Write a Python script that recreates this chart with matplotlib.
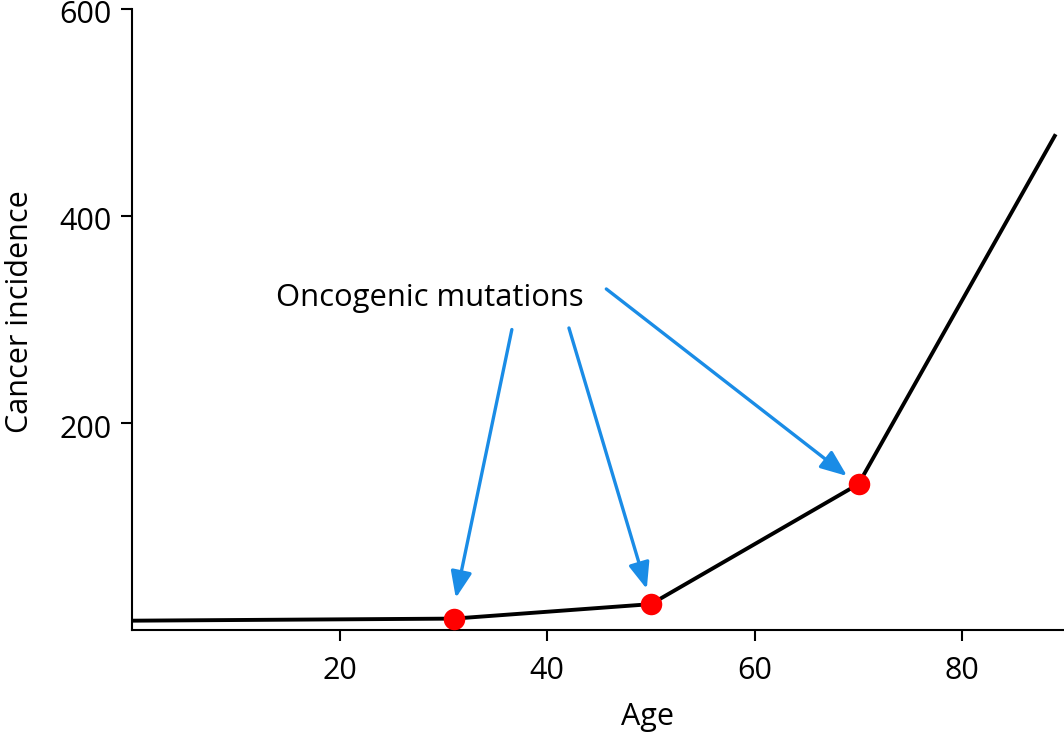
import matplotlib
matplotlib.use("Agg")
import matplotlib.pyplot as plt
from matplotlib.transforms import ScaledTranslation

# Data
ages = [0, 31, 50, 70, 89]
incidence = [9, 11, 25, 141, 479]
mutation_ages = [31, 50, 70]
mutation_incidence = [11, 25, 141]

x_ticks = [20, 40, 60, 80]
y_ticks = [200, 400, 600]

annotation_text = "Oncogenic mutations"
x_label = "Age"
y_label = "Cancer incidence"

plt.rcParams['font.family'] = ['Open Sans', 'DejaVu Sans']

W, H = 1064, 732
fig = plt.figure(figsize=(W / 100, H / 100), dpi=100)
ax = fig.add_axes([132 / W, (H - 630) / H, (1064 - 132) / W, (630 - 9) / H])

ax.plot(ages, incidence, color='black', lw=2.8, solid_capstyle='butt', zorder=2)
ax.plot(mutation_ages, mutation_incidence, 'o', color='#ff0000', ms=15.5,
        markeredgewidth=0, zorder=3)

ax.set_xlim(0, 89.8)
ax.set_ylim(0, 600)
ax.set_xticks(x_ticks)
ax.set_yticks(y_ticks)
for s in ['top', 'right']:
    ax.spines[s].set_visible(False)
for s in ['left', 'bottom']:
    ax.spines[s].set_linewidth(1.5)
ax.tick_params(axis='both', direction='out', length=8, width=1.5,
               labelsize=22, color='black')
ax.tick_params(axis='x', pad=11)
ax.tick_params(axis='y', pad=7)

offset = ScaledTranslation(0, -3 / 100, fig.dpi_scale_trans)
for lbl in ax.get_yticklabels():
    lbl.set_transform(lbl.get_transform() + offset)

ax.set_xlabel(x_label, fontsize=22)
ax.xaxis.set_label_coords(0.553, -0.116)
ax.set_ylabel(y_label, fontsize=22)
ax.yaxis.set_label_coords(-0.104, 0.512)

blue = '#1a8ce6'
ax.text(28.7, 321, annotation_text, fontsize=22.3, ha='center', va='center')
arrows = [((36.6, 290.3), (31.2, 30.9)),
          ((42.1, 291.8), (49.6, 39.6)),
          ((45.7, 329.5), (68.9, 148.8))]
for start, tip in arrows:
    ax.annotate('', xy=tip, xytext=start,
                arrowprops=dict(arrowstyle='-|>,head_length=0.8,head_width=0.32',
                                color=blue, lw=2.4, mutation_scale=20,
                                shrinkA=0, shrinkB=0))

fig.savefig('out.png', dpi=100)
